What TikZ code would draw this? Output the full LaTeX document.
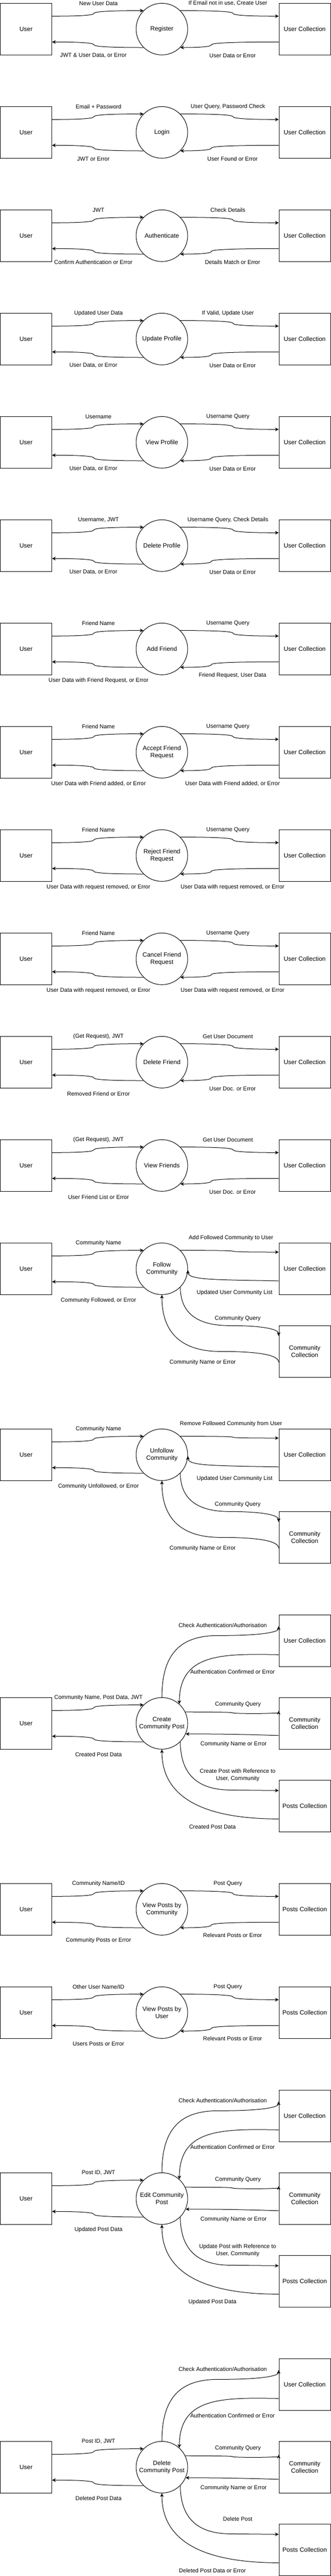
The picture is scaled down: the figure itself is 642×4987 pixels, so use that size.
\documentclass[tikz,border=0pt]{standalone}
\usepackage{fontspec}
\setmainfont{Liberation Sans}
\usetikzlibrary{arrows.meta,calc}
\newcommand{\lblfont}{\fontsize{11pt}{14pt}\selectfont}
\newcommand{\boxfont}{\fontsize{12pt}{14.4pt}\selectfont}
\tikzset{
  box/.style={draw=black, line width=1pt, minimum width=100pt, minimum height=100pt, inner sep=2pt, align=center, font=\boxfont},
  proc/.style={draw=black, circle, line width=1pt, minimum size=100pt, inner sep=0pt, align=center, font=\boxfont},
  flow/.style={draw=black, line width=1pt, -{Stealth[length=7pt,width=7pt,inset=2.2pt]}},
  lbl/.style={inner sep=0pt, align=center, font=\lblfont},
}
% drawio-like curved step connector: start, end, x of the step
\newcommand{\sflow}[3]{%
  \draw[flow] let \p1=(#1), \p2=(#2) in
    (\p1) .. controls ({\x1+0.6667*(#3pt-\x1)},\y1) and (#3pt,{0.5*(\y1+\y2)+0.3333*(\y1-\y2)})
    .. (#3pt,{0.5*(\y1+\y2)})
    .. controls (#3pt,{0.5*(\y1+\y2)+0.3333*(\y2-\y1)}) and ({\x2+0.6667*(#3pt-\x2)},\y2) .. (\p2);
}
% simple section: id, process, right store, TL, TR, BL, BR
\newcommand{\simplesec}[7]{%
  \node[box] (u#1) at (50.5,{\secT+50}) {User};
  \node[proc] (p#1) at (314,{\secT+50}) {#2};
  \node[box] (c#1) at (591,{\secT+50}) {#3};
  \sflow{[yshift=25pt]u#1.east}{p#1.135}{182}
  \sflow{p#1.45}{[yshift=25pt]c#1.west}{452}
  \sflow{[yshift=-25pt]c#1.west}{p#1.-45}{410}
  \sflow{p#1.-135}{[yshift=-25pt]u#1.east}{182}
  \node[lbl] (l#1a) at (191,\secT) {#4};
  \node[lbl] (l#1b) at (442,\secT) {#5};
  \node[lbl] (l#1c) at (\BLx,{\secT+\BLy}) {#6};
  \node[lbl] (l#1d) at (451,{\secT+\BRy}) {#7};
}
% follow / unfollow section: id, process, TR label, BL label
\newcommand{\followsec}[4]{%
  \node[box] (u#1) at (50.5,{\secT+50}) {User};
  \node[proc] (p#1) at (314,{\secT+50}) {#2};
  \node[box] (c#1) at (591,{\secT+50}) {User Collection};
  \node[box] (d#1) at (591,{\secT+210}) {Community\\Collection};
  \sflow{[yshift=25pt]u#1.east}{p#1.135}{182}
  \sflow{p#1.-135}{[yshift=-25pt]u#1.east}{182}
  \sflow{p#1.45}{[yshift=32.3pt]c#1.west}{452}
  \draw[flow] ([yshift=-23.5pt]c#1.west) .. controls +(-121,-2.5) and +(0,19.4) .. (p#1.-3);
  \coordinate (m#1a) at (445.5,{\secT+160});
  \draw[flow] (p#1.-45) .. controls +(0.4,49.7) and +(-63.7,0) .. (m#1a)
     .. controls +(63.7,0) and +(0,-13.3) .. ([yshift=30pt]d#1.west);
  \coordinate (m#1b) at (427.5,{\secT+210});
  \draw[flow] ([yshift=-21pt]d#1.west) .. controls +(0,-14) and +(75.7,0) .. (m#1b)
     .. controls +(-75.7,0) and +(0,73.3) .. (p#1.south);
  \node[lbl] (l#1a) at (191,\secT) {Community Name};
  \node[lbl] (l#1b) at (448,{\secT-10}) {#3};
  \node[lbl] (l#1c) at (191,{\secT+111}) {#4};
  \node[lbl] (l#1d) at (455,{\secT+96}) {Updated User Community List};
  \node[lbl] (l#1e) at (461,{\secT+146}) {Community Query};
  \node[lbl] (l#1f) at (393,{\secT+231}) {Community Name or Error};
}
% post section: id, process, TL, BL, post label, bottom label
\newcommand{\postsec}[6]{%
  \node[box] (u#1) at (50.5,{\secT+50}) {User};
  \node[proc] (p#1) at (314,{\secT+50}) {#2};
  \node[box] (c#1) at (591,{\secT-110}) {User Collection};
  \node[box] (d#1) at (591,{\secT+50}) {Community\\Collection};
  \node[box] (e#1) at (591,{\secT+210}) {Posts Collection};
  \sflow{[yshift=25pt]u#1.east}{p#1.135}{182}
  \sflow{p#1.-135}{[yshift=-25pt]u#1.east}{182}
  \coordinate (m#1a) at (427.5,{\secT-120});
  \draw[flow] (p#1.north) .. controls +(0,-95) and +(-67.5,-1) .. (m#1a)
     .. controls +(75.7,0) and +(0,12) .. ([yshift=28pt]c#1.west);
  \draw[flow] ([yshift=-27pt]c#1.west) .. controls +(-111,-2) and +(0.5,-97.8) .. (p#1.48);
  \draw[flow] (p#1.26) .. controls (420.3,{\secT+28}) and (451,{\secT+28.5}) .. (451,{\secT+29.5})
     .. controls (451,{\secT+30.5}) and (466,{\secT+31}) .. (496,{\secT+31})
     .. controls (526,{\secT+31}) and (540.5,{\secT+29.3}) .. ([yshift=24pt]d#1.west);
  \draw[flow] ([yshift=-23.5pt]d#1.west) .. controls +(-90,-3) and +(40,0) .. (p#1.-24);
  \coordinate (m#1b) at (445.5,{\secT+179});
  \draw[flow] (p#1.-45) .. controls +(0.4,61.7) and +(-63.7,-0.7) .. (m#1b) -- ([yshift=30pt]e#1.west);
  \draw[flow] ([yshift=-25pt]e#1.west) .. controls +(-151.3,0) and +(0,90) .. (p#1.south);
  \node[lbl] (l#1a) at (191,\secT) {#3};
  \node[lbl] (l#1b) at (191,{\secT+110.7}) {#4};
  \node[lbl] (l#1c) at (432,{\secT-140}) {Check Authentication/Authorisation};
  \node[lbl] (l#1d) at (451,{\secT-49.5}) {Authentication Confirmed or Error};
  \node[lbl] (l#1e) at (461.5,{\secT+13.3}) {Community Query};
  \node[lbl] (l#1f) at (453,{\secT+90.3}) {Community Name or Error};
  \node[lbl] (l#1g) at (461,{\secT+150.6}) {#5};
  \node[lbl] (l#1h) at (412,{\secT+250.5}) {#6};
}
\begin{document}
\begin{tikzpicture}[x=1pt,y=-1pt]
\fill[white] (0,0) rectangle (642,4987);
\useasboundingbox (0,0) rectangle (642,4987);
\def\BLx{181}\def\BLy{101}\def\BRy{101}
\def\secT{6.3}\simplesec{1}{Register}{User Collection}{New User Data}{If Email not in use, Create User}{JWT \& User Data, or Error}{User Data or Error}
\def\secT{206.3}\simplesec{2}{Login}{User Collection}{Email + Password}{User Query, Password Check}{JWT or Error}{User Found or Error}
\def\secT{406.3}\simplesec{3}{Authenticate}{User Collection}{JWT}{Check Details}{Confirm Authentication or Error}{Details Match or Error}
\def\secT{606.3}\simplesec{4}{Update Profile}{User Collection}{Updated User Data}{If Valid, Update User}{User Data, or Error}{User Data or Error}
\def\secT{806.3}\simplesec{5}{View Profile}{User Collection}{Username}{Username Query}{User Data, or Error}{User Data or Error}
\def\secT{1006.3}\simplesec{6}{Delete Profile}{User Collection}{Username, JWT}{Username Query, Check Details}{User Data, or Error}{User Data or Error}
\def\BLx{191}\def\BLy{111}
\def\secT{1206.3}\simplesec{7}{Add Friend}{User Collection}{Friend Name}{Username Query}{User Data with Friend Request, or Error}{Friend Request, User Data}
\def\BRy{111}
\def\secT{1406.3}\simplesec{8}{Accept Friend\\Request}{User Collection}{Friend Name}{Username Query}{User Data with Friend added, or Error}{User Data with Friend added, or Error}
\def\secT{1606.3}\simplesec{9}{Reject Friend\\Request}{User Collection}{Friend Name}{Username Query}{User Data with request removed, or Error}{User Data with request removed, or Error}
\def\secT{1806.3}\simplesec{10}{Cancel Friend\\Request}{User Collection}{Friend Name}{Username Query}{User Data with request removed, or Error}{User Data with request removed, or Error}
\def\BRy{101}
\def\secT{2006.3}\simplesec{11}{Delete Friend}{User Collection}{(Get Request), JWT}{Get User Document}{Removed Friend or Error}{User Doc. or Error}
\def\secT{2206.3}\simplesec{12}{View Friends}{User Collection}{(Get Request), JWT}{Get User Document}{User Friend List or Error}{User Doc. or Error}
\def\secT{2406.3}\followsec{13}{Follow\\Community}{Add Followed Community to User}{Community Followed, or Error}
\def\secT{2766.3}\followsec{14}{Unfollow\\Community}{Remove Followed Community from User}{Community Unfollowed, or Error}
\def\secT{3286.3}\postsec{15}{Create\\Community Post}{Community Name, Post Data, JWT}{Created Post Data}{Create Post with Reference to\\User, Community}{Created Post Data}
\def\BLy{110.5}\def\BRy{100.5}
\def\secT{3646.3}\simplesec{16}{View Posts by\\Community}{Posts Collection}{Community Name/ID}{Post Query}{Community Posts or Error}{Relevant Posts or Error}
\def\secT{3846.3}\simplesec{17}{View Posts by\\User}{Posts Collection}{Other User Name/ID}{Post Query}{Users Posts or Error}{Relevant Posts or Error}
\def\secT{4206.3}\postsec{18}{Edit Community\\Post}{Post ID, JWT}{Updated Post Data}{Update Post with Reference to\\User, Community}{Updated Post Data}
\def\secT{4726.3}\postsec{19}{Delete\\Community Post}{Post ID, JWT}{Deleted Post Data}{Delete Post}{Deleted Post Data or Error}
\end{tikzpicture}
\end{document}
